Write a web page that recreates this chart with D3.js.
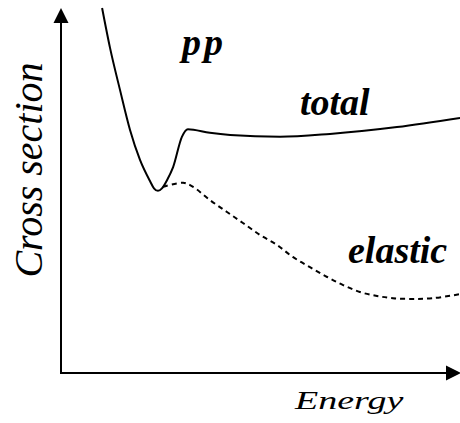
<!DOCTYPE html>
<html>
<head>
<meta charset="utf-8">
<script src="https://cdn.jsdelivr.net/npm/d3@7"></script>
<style>
  body { margin: 0; background: #fff; }
</style>
</head>
<body>
<div id="chart"></div>
<script>
// Sketch values (arbitrary units, 0-100 on both axes).
const totalEnergy  = [10.3, 12.3, 14.8, 17.3, 19.8, 22.3, 23.3, 24.3, 25.3, 26.6, 28.1, 30.3, 31.8, 37.3, 42.4, 54.9, 67.4, 84.2, 100];
const totalSigma   = [100, 89.0, 77.5, 66.6, 58.4, 52.6, 50.6, 49.9, 50.6, 52.9, 56.4, 64.7, 66.8, 65.8, 65.2, 64.7, 65.5, 67.4, 69.9];
const elasticEnergy = [25.6, 30.6, 33.1, 37.3, 41.6, 45.6, 49.9, 54.1, 58.1, 62.4, 66.7, 70.7, 74.9, 79.2, 83.2, 88.2, 93.2, 100];
const elasticSigma  = [51.0, 52.1, 51.0, 47.4, 44.1, 41.1, 37.8, 35.1, 31.8, 29.0, 26.3, 24.1, 22.2, 21.1, 20.5, 20.3, 20.5, 21.6];

const width = 460,
      height = 423;
const serif = "'Liberation Serif', 'DejaVu Serif', 'Noto Serif', 'Times New Roman', Times, serif";

const x = d3.scaleLinear().domain([0, 100]).range([61, 460]);
const y = d3.scaleLinear().domain([0, 100]).range([373, 8]);

const svg = d3.select("#chart")
  .append("svg")
  .attr("width", width)
  .attr("height", height);

// Axes with arrow heads
const x0 = x(0), y0 = y(0), xEnd = x(100), yEnd = y(100);
svg.append("line")
  .attr("x1", x0).attr("y1", y0 + 1)
  .attr("x2", x0).attr("y2", yEnd + 10)
  .attr("stroke", "#000").attr("stroke-width", 2);
svg.append("line")
  .attr("x1", x0 - 1).attr("y1", y0)
  .attr("x2", xEnd - 10).attr("y2", y0)
  .attr("stroke", "#000").attr("stroke-width", 2);
svg.append("path")
  .attr("d", `M${x0},${yEnd} L${x0 - 7.5},${yEnd + 15} L${x0 + 7.5},${yEnd + 15} Z`)
  .attr("fill", "#000");
svg.append("path")
  .attr("d", `M${xEnd + 1},${y0} L${xEnd - 14},${y0 - 7.5} L${xEnd - 14},${y0 + 7.5} Z`)
  .attr("fill", "#000");

// total (solid)
svg.append("path")
  .datum(d3.zip(totalEnergy, totalSigma))
  .attr("d", d3.line().x(d => x(d[0])).y(d => y(d[1])).curve(d3.curveMonotoneX))
  .attr("fill", "none")
  .attr("stroke", "#000")
  .attr("stroke-width", 2);

// elastic (dashed)
svg.append("path")
  .datum(d3.zip(elasticEnergy, elasticSigma))
  .attr("d", d3.line().x(d => x(d[0])).y(d => y(d[1])).curve(d3.curveCatmullRom.alpha(0.5)))
  .attr("fill", "none")
  .attr("stroke", "#000")
  .attr("stroke-width", 2)
  .attr("stroke-dasharray", "5,4");

// Labels
function label(t) {
  return svg.append("text")
    .style("font-family", serif)
    .style("font-style", "italic")
    .attr("fill", "#000")
    .text(t);
}

label("pp")
  .attr("x", 182).attr("y", 55)
  .style("font-size", "38px").style("font-weight", "bold")
  .attr("letter-spacing", 3);
label("total")
  .attr("x", 300).attr("y", 115)
  .style("font-size", "38px").style("font-weight", "bold");
label("elastic")
  .attr("x", 348).attr("y", 263)
  .style("font-size", "38px").style("font-weight", "bold");

label("Energy")
  .attr("transform", "translate(295,409) scale(1,0.68)")
  .style("font-size", "38px");

label("Cross section")
  .attr("transform", "translate(42,170) rotate(-90)")
  .attr("text-anchor", "middle")
  .style("font-size", "40px");
</script>
</body>
</html>
